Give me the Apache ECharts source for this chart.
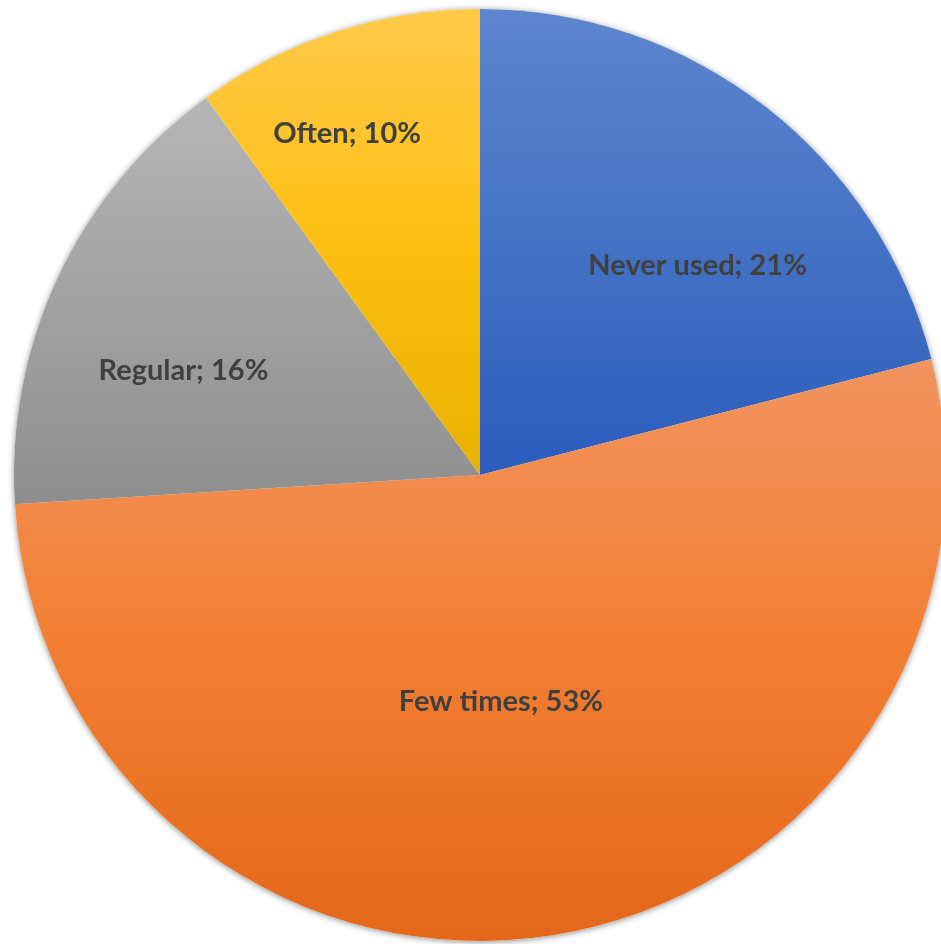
<!DOCTYPE html>
<html>
<head>
<meta charset="utf-8">
<title>Usage frequency</title>
<script src="https://cdn.jsdelivr.net/npm/echarts@6/dist/echarts.min.js"></script>
<style>
  html, body { margin: 0; padding: 0; background: #ffffff; }
  #chart { width: 941px; height: 944px; }
</style>
</head>
<body>
<div id="chart"></div>
<script>
// Share of respondents by how often they use it (percent)
const categories = ['Never used', 'Few times', 'Regular', 'Often'];
const shares = [21, 53, 16, 10];

// Slice fills: light tint at the top, base colour, darker shade at the bottom
const sliceTop    = ['#5d86ce', '#f29460', '#b6b6b6', '#ffca4a'];
const sliceMid    = ['#4472c4', '#f27f32', '#a2a2a2', '#fdbf12'];
const sliceBottom = ['#2c5cbd', '#e4671a', '#8e8e8e', '#e7b100'];

// Extra shift of each label away from the middle of its slice
const labelNudge = [[73, -23], [-16, -6], [-83, -4], [-60, -117]];

function fill(i) {
  return new echarts.graphic.LinearGradient(0, 0, 0, 1, [
    { offset: 0, color: sliceTop[i] },
    { offset: 0.5, color: sliceMid[i] },
    { offset: 1, color: sliceBottom[i] }
  ]);
}

const chart = echarts.init(document.getElementById('chart'), null, { renderer: 'canvas' });

chart.setOption({
  backgroundColor: '#ffffff',
  animation: false,
  series: [
    {
      // soft shadow beneath the whole pie
      type: 'pie',
      silent: true,
      z: 1,
      center: [480, 475],
      radius: 466,
      startAngle: 90,
      label: { show: false },
      labelLine: { show: false },
      itemStyle: {
        color: '#ffffff',
        shadowBlur: 6,
        shadowColor: 'rgba(0,0,0,0.45)',
        shadowOffsetY: 1
      },
      data: [{ value: shares.reduce((a, b) => a + b, 0), name: '' }]
    },
    {
      type: 'pie',
      z: 2,
      center: [480, 475],
      radius: 466,
      startAngle: 90,
      clockwise: true,
      avoidLabelOverlap: false,
      label: {
        show: true,
        position: 'inside',
        formatter: p => p.name + '; ' + p.value + '%',
        color: '#404040',
        fontFamily: 'Lato',
        fontWeight: 'bold',
        fontSize: 29
      },
      labelLine: { show: false },
      labelLayout: p => ({ dx: labelNudge[p.dataIndex][0], dy: labelNudge[p.dataIndex][1] }),
      emphasis: { disabled: true },
      data: categories.map((name, i) => ({
        name: name,
        value: shares[i],
        itemStyle: { color: fill(i) }
      }))
    }
  ]
});
</script>
</body>
</html>
